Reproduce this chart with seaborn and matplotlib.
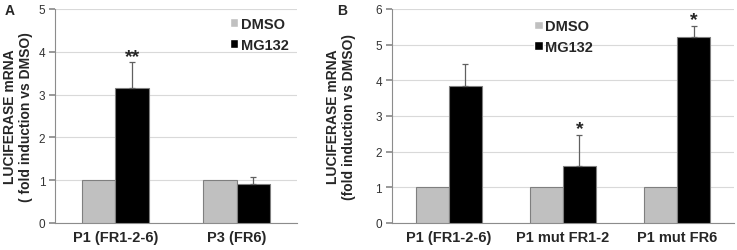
import numpy as np
import pandas as pd
import seaborn as sns
import matplotlib.pyplot as plt

# Panel A data
a_constructs = ['P1 (FR1-2-6)', 'P3 (FR6)']
a_dmso = [1.0, 1.0]
a_mg132 = [3.15, 0.91]
a_mg132_err = [0.60, 0.16]
a_stars = ['**', '']

# Panel B data
b_constructs = ['P1 (FR1-2-6)', 'P1 mut FR1-2', 'P1 mut FR6']
b_dmso = [1.0, 1.0, 1.0]
b_mg132 = [3.85, 1.59, 5.22]
b_mg132_err = [0.60, 0.89, 0.31]
b_stars = ['', '*', '*']

treatments = ['DMSO', 'MG132']
colors = ['#c0c0c0', '#000000']

sns.set_theme(style='white')
plt.rcParams['font.family'] = ['Liberation Sans', 'DejaVu Sans']


def long_df(constructs, dmso, mg132):
    rows = []
    for c, v in zip(constructs, dmso):
        rows.append((c, 'DMSO', v))
    for c, v in zip(constructs, mg132):
        rows.append((c, 'MG132', v))
    return pd.DataFrame(rows, columns=['construct', 'treatment', 'value'])


def draw_panel(ax, constructs, dmso, mg132, err, stars, ymax, width, ylabel, labelpad,
               legend_anchor, legend_loc):
    df = long_df(constructs, dmso, mg132)
    sns.barplot(data=df, x='construct', y='value', hue='treatment', hue_order=treatments,
                palette=colors, width=width, gap=0, errorbar=None, ax=ax, zorder=3)
    n = len(constructs)
    # bar outlines
    for p in ax.patches[:2 * n]:
        p.set_edgecolor('#7f7f7f')
        p.set_linewidth(0.8)
    # upward error bars and significance stars on MG132 bars
    mg_bars = ax.patches[n:2 * n]
    xs = [p.get_x() + p.get_width() / 2 for p in mg_bars]
    ax.errorbar(xs, mg132, yerr=[np.zeros(n), err], fmt='none', ecolor='#606060',
                elinewidth=0.9, capsize=2, capthick=0.9, zorder=4)
    for x, v, e, s in zip(xs, mg132, err, stars):
        if s:
            ax.text(x, v + e - 0.01 * ymax, s, ha='center', va='bottom',
                    fontsize=14, fontweight='bold')

    ax.set_ylim(0, ymax)
    ax.set_xlim(-0.5, n - 0.5)
    ax.set_yticks(range(0, ymax + 1))
    ax.yaxis.grid(True, color='#d9d9d9', linewidth=0.8, zorder=0)
    ax.set_axisbelow(True)
    for side in ['top', 'right']:
        ax.spines[side].set_visible(False)
    for side in ['left', 'bottom']:
        ax.spines[side].set_color('#8c8c8c')
        ax.spines[side].set_linewidth(0.8)
    ax.tick_params(axis='y', length=4, color='#8c8c8c', labelsize=8.5, labelcolor='#333333', pad=3, left=True)
    ax.tick_params(axis='x', length=0, labelsize=10.5, pad=5)
    for lbl in ax.get_xticklabels():
        lbl.set_fontweight('bold')
    ax.set_xlabel('')
    ax.set_ylabel(ylabel, fontsize=10, fontweight='bold', labelpad=labelpad, linespacing=1.15)

    leg = ax.legend(loc=legend_loc, bbox_to_anchor=legend_anchor, frameon=False,
                    fontsize=10.5, handlelength=0.55, handleheight=0.55,
                    handletextpad=0.2, labelspacing=0.45, borderaxespad=0)
    for t in leg.get_texts():
        t.set_fontweight('bold')


fig = plt.figure(figsize=(7.37, 2.51), dpi=100)
ax_a = fig.add_axes([0.0746, 0.1076, 0.3284, 0.8526])
ax_b = fig.add_axes([0.5315, 0.1076, 0.4645, 0.8526])

draw_panel(ax_a, a_constructs, a_dmso, a_mg132, a_mg132_err, a_stars, 5, 0.56,
           'LUCIFERASE mRNA\n( fold induction vs DMSO)', 4, (0.99, 0.99), 'upper right')
draw_panel(ax_b, b_constructs, b_dmso, b_mg132, b_mg132_err, b_stars, 6, 0.58,
           'LUCIFERASE mRNA\n(fold induction vs DMSO)', 14, (0.40, 0.98), 'upper left')

fig.text(0.006, 0.985, 'A', fontsize=10, fontweight='bold', va='top')
fig.text(0.457, 0.985, 'B', fontsize=10, fontweight='bold', va='top')

fig.savefig('out.png', dpi=100)
